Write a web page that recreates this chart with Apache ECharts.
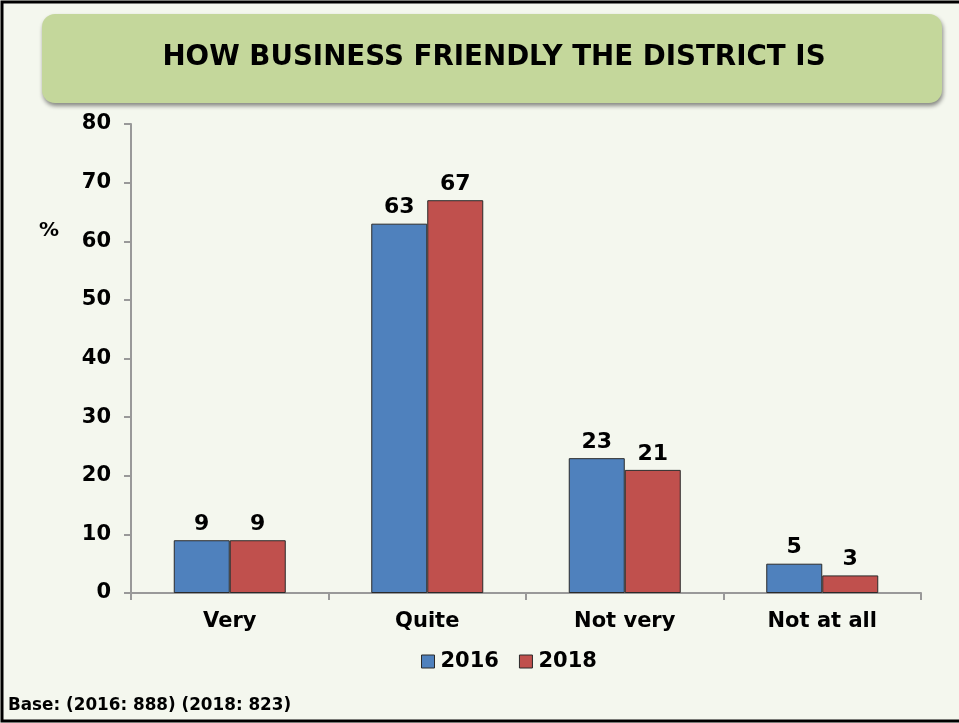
<!DOCTYPE html>
<html>
<head>
<meta charset="utf-8">
<script src="https://cdn.jsdelivr.net/npm/echarts@6/dist/echarts.min.js"></script>
<style>
  html, body { margin: 0; padding: 0; background: #f4f7ee; }
  #chart { width: 959px; height: 723px; }
</style>
</head>
<body>
<div id="chart"></div>
<script>
// Survey answers: how business friendly the district is (%)
const categories = ['Very', 'Quite', 'Not very', 'Not at all'];
const seriesNames = ['2016', '2018'];
const values2016 = [9, 63, 23, 5];
const values2018 = [9, 67, 21, 3];
const yTicks = { min: 0, max: 80, interval: 10 };
const titleText = 'HOW BUSINESS FRIENDLY THE DISTRICT IS';
const baseNote = 'Base: (2016: 888) (2018: 823)';

const FONT = '"DejaVu Sans", Verdana, sans-serif';
const colors = ['#4f81bd', '#c0504d'];

const chart = echarts.init(document.getElementById('chart'), null, { renderer: 'canvas' });

function barSeries(name, data, color) {
  return {
    name: name,
    type: 'bar',
    data: data,
    barWidth: 56,
    barGap: '0%',
    itemStyle: { color: color, borderColor: '#2a2a2a', borderWidth: 1 },
    label: {
      show: true,
      position: 'top',
      distance: 5,
      color: '#000',
      fontFamily: FONT,
      fontWeight: 'bold',
      fontSize: 22
    }
  };
}

chart.setOption({
  backgroundColor: '#f4f7ee',
  animation: false,
  grid: { left: 131, right: 38, top: 124, bottom: 130 },
  legend: {
    data: seriesNames,
    left: 416,
    top: 646,
    icon: 'rect',
    itemWidth: 13,
    itemHeight: 13,
    itemGap: 20,
    itemStyle: { borderColor: '#2a2a2a', borderWidth: 1 },
    textStyle: { color: '#000', fontFamily: FONT, fontWeight: 'bold', fontSize: 21, padding: [0, 0, 0, 1] }
  },
  xAxis: {
    type: 'category',
    data: categories,
    axisLine: { lineStyle: { color: '#999', width: 2 } },
    axisTick: { show: true, length: 7, lineStyle: { color: '#999', width: 2 } },
    axisLabel: { color: '#000', fontFamily: FONT, fontWeight: 'bold', fontSize: 21, margin: 18 }
  },
  yAxis: {
    type: 'value',
    min: yTicks.min,
    max: yTicks.max,
    interval: yTicks.interval,
    splitLine: { show: false },
    axisLine: { show: true, lineStyle: { color: '#999', width: 2 } },
    axisTick: { show: true, length: 7, lineStyle: { color: '#999', width: 2 } },
    axisLabel: { color: '#000', fontFamily: FONT, fontWeight: 'bold', fontSize: 21, margin: 20 }
  },
  series: [
    barSeries(seriesNames[0], values2016, colors[0]),
    barSeries(seriesNames[1], values2018, colors[1])
  ],
  graphic: [
    // outer frame (left, top, bottom edges)
    { type: 'polyline', z: 100, shape: { points: [[959, 2], [2, 2], [2, 721], [959, 721]] },
      style: { stroke: '#000', lineWidth: 3, fill: null } },
    // title banner
    { type: 'rect', z: 10,
      shape: { x: 42, y: 14, width: 900, height: 89, r: 13 },
      style: { fill: '#c4d79b', shadowColor: 'rgba(0,0,0,0.45)', shadowBlur: 4, shadowOffsetX: 1, shadowOffsetY: 3 } },
    { type: 'text', z: 11, x: 494, y: 58,
      style: { text: titleText, fill: '#000', align: 'center', verticalAlign: 'middle',
               font: 'bold 27.7px ' + FONT } },
    // unit label
    { type: 'text', z: 11, left: 39, top: 221,
      style: { text: '%', fill: '#000', font: 'bold 20px ' + FONT } },
    // sample base note
    { type: 'text', z: 11, left: 8, top: 697,
      style: { text: baseNote, fill: '#000', font: 'bold 16.8px ' + FONT } }
  ]
});
</script>
</body>
</html>
